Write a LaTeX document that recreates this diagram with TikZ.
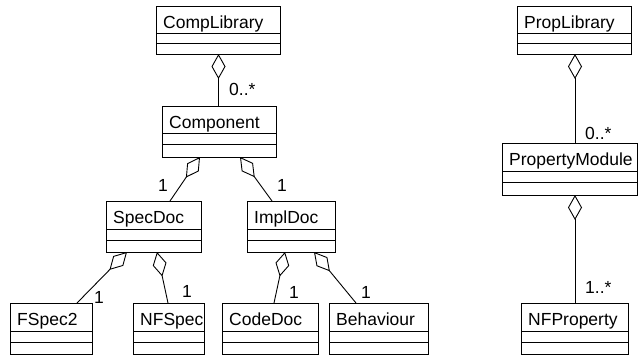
\documentclass[tikz,border=0pt]{standalone}
\usepackage{fontspec}
\setmainfont{Liberation Sans}
\usetikzlibrary{arrows.meta}
\tikzset{
  box/.style={draw, line width=0.9pt, inner sep=0pt, outer sep=0pt, anchor=north west},
  sep/.style={line width=0.9pt},
  agg/.style={line width=0.9pt, {Diamond[open,length=25pt,width=14pt]}-},
  lbl/.style={inner sep=0pt, anchor=west, font=\fontsize{17.5}{20}\selectfont},
  cname/.style={inner sep=0pt, anchor=base west, font=\fontsize{17.5}{20}\selectfont}
}
% id, left, right, top, line1, line2, bottom, text
\newcommand\classbox[8]{%
  \node[box, minimum width={#3-#2}, minimum height={#7-#4}] (#1) at (#2,-#4) {};
  \draw[sep] (#2,-#5) -- (#3,-#5);
  \draw[sep] (#2,-#6) -- (#3,-#6);
  \node[cname] (#1-t) at (#2+7,-#4-22) {#8};
}
\begin{document}
\begin{tikzpicture}[x=1pt,y=1pt]
\useasboundingbox (0,0) rectangle (638,-356);
\classbox{complib}{156}{280}{6}{33}{43}{54}{CompLibrary}
\classbox{comp}{162}{276}{106}{133}{144}{157}{Component}
\classbox{spec}{106}{201}{201}{229}{240}{252}{SpecDoc}
\classbox{impl}{247}{335}{201}{229}{240}{252}{ImplDoc}
\classbox{fspec}{10}{92}{303}{331}{342}{354}{FSpec2}
\classbox{nfspec}{133}{204}{303}{331}{342}{354}{NFSpec}
\classbox{code}{222}{318}{303}{331}{342}{354}{CodeDoc}
\classbox{beh}{329}{428}{303}{331}{342}{354}{Behaviour}
\classbox{proplib}{517}{631}{6}{33}{43}{54}{PropLibrary}
\classbox{propmod}{502}{637}{143}{171}{182}{195}{PropertyModule}
\classbox{nfprop}{521}{628}{303}{331}{342}{354}{NFProperty}

\draw[agg] ([xshift=62.5pt]complib.south west) -- ([xshift=56.5pt]comp.north west);
\draw[agg] ([xshift=38pt]comp.south west) -- ([xshift=64pt]spec.north west);
\draw[agg] ([xshift=78pt]comp.south west) -- ([xshift=25pt]impl.north west);
\draw[agg] ([xshift=21pt]spec.south west) -- ([xshift=67pt]fspec.north west);
\draw[agg] ([xshift=51pt]spec.south west) -- ([xshift=35pt]nfspec.north west);
\draw[agg] ([xshift=38pt]impl.south west) -- ([xshift=52pt]code.north west);
\draw[agg] ([xshift=67pt]impl.south west) -- ([xshift=27pt]beh.north west);
\draw[agg] ([xshift=58pt]proplib.south west) -- ([xshift=73pt]propmod.north west);
\draw[agg] ([xshift=73pt]propmod.south west) -- ([xshift=54pt]nfprop.north west);

\node[lbl] (m1) at (229,-89) {0..*};
\node[lbl] (m2) at (158,-185) {1};
\node[lbl] (m3) at (277,-185) {1};
\node[lbl] (m4) at (94,-297) {1};
\node[lbl] (m5) at (182,-291) {1};
\node[lbl] (m6) at (289,-292) {1};
\node[lbl] (m7) at (361,-292) {1};
\node[lbl] (m8) at (585,-133) {0..*};
\node[lbl] (m9) at (585,-287) {1..*};
\end{tikzpicture}
\end{document}
